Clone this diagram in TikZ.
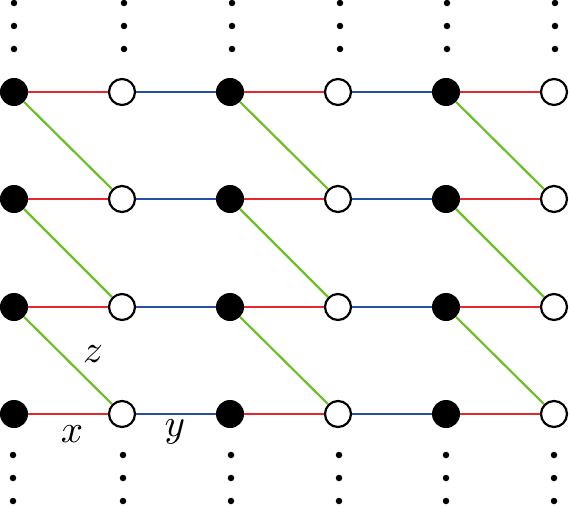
\documentclass[tikz,border=0pt]{standalone}
\definecolor{myred}{RGB}{228,40,46}
\definecolor{myblue}{RGB}{40,80,160}
\definecolor{mygreen}{RGB}{110,190,40}
\begin{document}
\begin{tikzpicture}[x=1pt,y=-1pt,
  full/.style={circle,fill=black,draw=black,line width=1pt,minimum size=27pt,inner sep=0pt},
  empty/.style={circle,fill=white,draw=black,line width=2.2pt,minimum size=26pt,inner sep=0pt},
  redge/.style={myred,line width=2.2pt},
  bedge/.style={myblue,line width=2.2pt},
  gedge/.style={mygreen,line width=2.2pt},
  dotn/.style={circle,fill=black,inner sep=0pt,minimum size=6.5pt},
  lab/.style={scale=3.9,inner sep=0pt}]
\useasboundingbox (0,0) rectangle (569,505);
% nodes
\foreach \r/\yy in {1/92,2/199,3/307,4/414}{
  \foreach \c/\xx in {0/14,2/230,4/446}{
    \node[full] (n\c\r) at (\xx,\yy) {};
  }
  \foreach \c/\xx in {1/122,3/338,5/554}{
    \node[empty] (n\c\r) at (\xx,\yy) {};
  }
}
% edges
\foreach \r in {1,2,3,4}{
  \draw[redge] (n0\r) -- (n1\r);
  \draw[redge] (n2\r) -- (n3\r);
  \draw[redge] (n4\r) -- (n5\r);
  \draw[bedge] (n1\r) -- (n2\r);
  \draw[bedge] (n3\r) -- (n4\r);
}
\foreach \r/\s in {1/2,2/3,3/4}{
  \draw[gedge] (n0\r) -- (n1\s);
  \draw[gedge] (n2\r) -- (n3\s);
  \draw[gedge] (n4\r) -- (n5\s);
}
% dots
\foreach \c/\xx in {0/14,1/124,2/232,3/340,4/447,5/555}{
  \foreach \k/\yy in {1/3,2/26,3/49}{
    \node[dotn] (ta\c\k) at (\xx,\yy) {};
  }
  \foreach \k/\yy in {1/455,2/478,3/501}{
    \node[dotn] (ba\c\k) at (\xx-1,\yy) {};
  }
}
% labels
\node[lab] (lz) at (93,354) {$z$};
\node[lab] (lx) at (72,434) {$x$};
\node[lab] (ly) at (175,432) {$y$};
\end{tikzpicture}
\end{document}
